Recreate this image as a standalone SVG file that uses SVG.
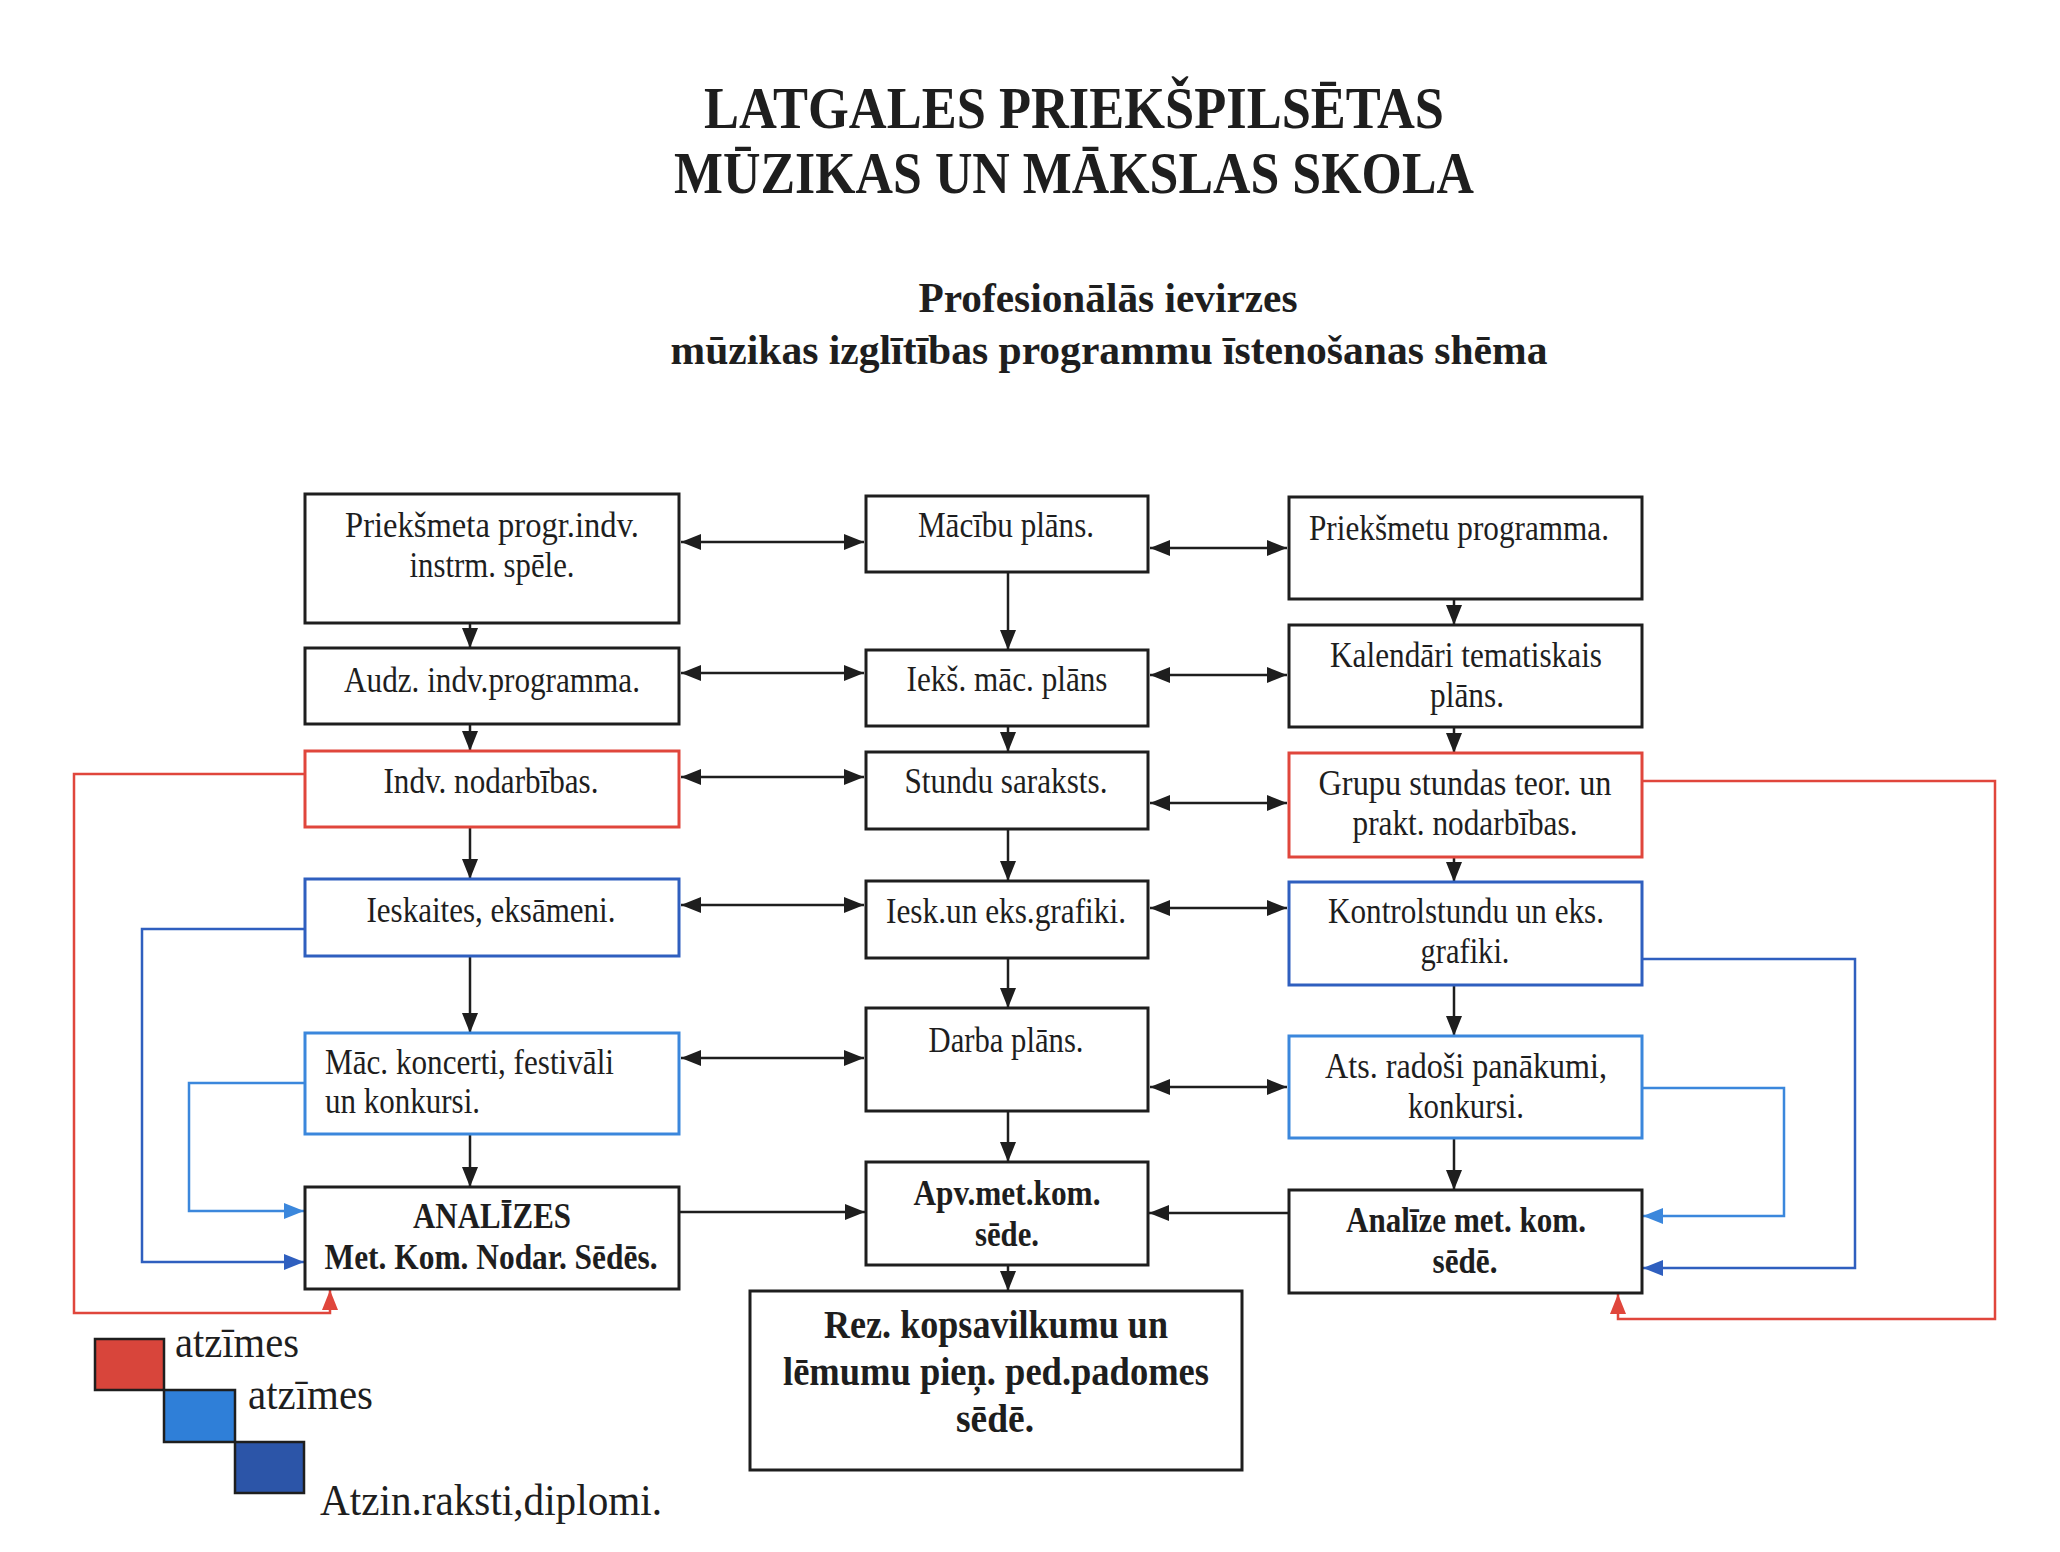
<svg xmlns="http://www.w3.org/2000/svg" width="2060" height="1552" viewBox="0 0 2060 1552">
<style>
text { font-family: "Liberation Serif", "Times New Roman", serif; fill: #1e1e1e; text-anchor: middle; }
.box { fill: #ffffff; stroke: #1e1e1e; stroke-width: 3; }
.red { stroke: #e0463c; }
.blue { stroke: #2f5fbf; }
.lblue { stroke: #3b87dc; }
.t { font-size: 36px; }
.b { font-size: 35px; font-weight: bold; }
.rz { font-size: 41px; font-weight: bold; }
.h1 { font-size: 59px; font-weight: bold; }
.h2 { font-size: 43px; font-weight: bold; }
.lg { font-size: 45px; text-anchor: start; }
.c { stroke: #1e1e1e; stroke-width: 2.5; fill: none; }
.cr { stroke: #e0463c; stroke-width: 2.5; fill: none; }
.cb { stroke: #2f5fbf; stroke-width: 2.5; fill: none; }
.cl { stroke: #3b87dc; stroke-width: 2.5; fill: none; }
.leg { stroke: #1e1e1e; stroke-width: 2.5; }
</style>
<defs>
<marker id="ab" viewBox="0 0 20 16" refX="20" refY="8" markerWidth="20" markerHeight="16" markerUnits="userSpaceOnUse" orient="auto-start-reverse"><path d="M0,0 L20,8 L0,16 z" fill="#1e1e1e"/></marker>
<marker id="ar" viewBox="0 0 20 16" refX="20" refY="8" markerWidth="20" markerHeight="16" markerUnits="userSpaceOnUse" orient="auto"><path d="M0,0 L20,8 L0,16 z" fill="#e0463c"/></marker>
<marker id="abl" viewBox="0 0 20 16" refX="20" refY="8" markerWidth="20" markerHeight="16" markerUnits="userSpaceOnUse" orient="auto"><path d="M0,0 L20,8 L0,16 z" fill="#2f5fbf"/></marker>
<marker id="alb" viewBox="0 0 20 16" refX="20" refY="8" markerWidth="20" markerHeight="16" markerUnits="userSpaceOnUse" orient="auto"><path d="M0,0 L20,8 L0,16 z" fill="#3b87dc"/></marker>
</defs>
<rect width="2060" height="1552" fill="#ffffff"/>

<g id="title">
<text class="h1" x="1074" y="128" textLength="740" lengthAdjust="spacingAndGlyphs">LATGALES PRIEKŠPILSĒTAS</text>
<text class="h1" x="1074" y="193" textLength="800" lengthAdjust="spacingAndGlyphs">MŪZIKAS UN MĀKSLAS SKOLA</text>
<text class="h2" x="1108" y="312" textLength="379" lengthAdjust="spacingAndGlyphs">Profesionālās ievirzes</text>
<text class="h2" x="1109" y="364" textLength="877" lengthAdjust="spacingAndGlyphs">mūzikas izglītības programmu īstenošanas shēma</text>
</g>

<g id="connectors">
<line class="c" x1="470" y1="623" x2="470" y2="648" marker-end="url(#ab)"/>
<line class="c" x1="470" y1="724" x2="470" y2="751" marker-end="url(#ab)"/>
<line class="c" x1="470" y1="827" x2="470" y2="879" marker-end="url(#ab)"/>
<line class="c" x1="470" y1="956" x2="470" y2="1033" marker-end="url(#ab)"/>
<line class="c" x1="470" y1="1134" x2="470" y2="1187" marker-end="url(#ab)"/>
<line class="c" x1="1008" y1="572" x2="1008" y2="650" marker-end="url(#ab)"/>
<line class="c" x1="1008" y1="726" x2="1008" y2="752" marker-end="url(#ab)"/>
<line class="c" x1="1008" y1="829" x2="1008" y2="881" marker-end="url(#ab)"/>
<line class="c" x1="1008" y1="958" x2="1008" y2="1008" marker-end="url(#ab)"/>
<line class="c" x1="1008" y1="1111" x2="1008" y2="1162" marker-end="url(#ab)"/>
<line class="c" x1="1008" y1="1265" x2="1008" y2="1291" marker-end="url(#ab)"/>
<line class="c" x1="1454" y1="599" x2="1454" y2="625" marker-end="url(#ab)"/>
<line class="c" x1="1454" y1="727" x2="1454" y2="753" marker-end="url(#ab)"/>
<line class="c" x1="1454" y1="857" x2="1454" y2="882" marker-end="url(#ab)"/>
<line class="c" x1="1454" y1="985" x2="1454" y2="1036" marker-end="url(#ab)"/>
<line class="c" x1="1454" y1="1138" x2="1454" y2="1190" marker-end="url(#ab)"/>
<line class="c" x1="681" y1="542" x2="864" y2="542" marker-start="url(#ab)" marker-end="url(#ab)"/>
<line class="c" x1="681" y1="673" x2="864" y2="673" marker-start="url(#ab)" marker-end="url(#ab)"/>
<line class="c" x1="681" y1="777" x2="864" y2="777" marker-start="url(#ab)" marker-end="url(#ab)"/>
<line class="c" x1="681" y1="905" x2="864" y2="905" marker-start="url(#ab)" marker-end="url(#ab)"/>
<line class="c" x1="681" y1="1058" x2="864" y2="1058" marker-start="url(#ab)" marker-end="url(#ab)"/>
<line class="c" x1="1150" y1="548" x2="1287" y2="548" marker-start="url(#ab)" marker-end="url(#ab)"/>
<line class="c" x1="1150" y1="675" x2="1287" y2="675" marker-start="url(#ab)" marker-end="url(#ab)"/>
<line class="c" x1="1150" y1="803" x2="1287" y2="803" marker-start="url(#ab)" marker-end="url(#ab)"/>
<line class="c" x1="1150" y1="908" x2="1287" y2="908" marker-start="url(#ab)" marker-end="url(#ab)"/>
<line class="c" x1="1150" y1="1087" x2="1287" y2="1087" marker-start="url(#ab)" marker-end="url(#ab)"/>
<line class="c" x1="679" y1="1212" x2="865" y2="1212" marker-end="url(#ab)"/>
<line class="c" x1="1289" y1="1213" x2="1149" y2="1213" marker-end="url(#ab)"/>
<polyline class="cr" points="305,774 74,774 74,1313 330,1313 330,1290" marker-end="url(#ar)"/>
<polyline class="cb" points="305,929 142,929 142,1262 304,1262" marker-end="url(#abl)"/>
<polyline class="cl" points="305,1083 189,1083 189,1211 304,1211" marker-end="url(#alb)"/>
<polyline class="cr" points="1642,781 1995,781 1995,1319 1618,1319 1618,1294" marker-end="url(#ar)"/>
<polyline class="cb" points="1642,959 1855,959 1855,1268 1643,1268" marker-end="url(#abl)"/>
<polyline class="cl" points="1642,1088 1784,1088 1784,1216 1643,1216" marker-end="url(#alb)"/>
</g>

<g id="L1"><rect class="box" x="305" y="494" width="374" height="129"/>
<text class="t" x="492" y="537" textLength="294" lengthAdjust="spacingAndGlyphs">Priekšmeta progr.indv.</text>
<text class="t" x="492" y="577" textLength="165" lengthAdjust="spacingAndGlyphs">instrm. spēle.</text></g>
<g id="L2"><rect class="box" x="305" y="648" width="374" height="76"/>
<text class="t" x="492" y="692" textLength="296" lengthAdjust="spacingAndGlyphs">Audz. indv.programma.</text></g>
<g id="L3"><rect class="box red" x="305" y="751" width="374" height="76"/>
<text class="t" x="491" y="793" textLength="215" lengthAdjust="spacingAndGlyphs">Indv. nodarbības.</text></g>
<g id="L4"><rect class="box blue" x="305" y="879" width="374" height="77"/>
<text class="t" x="491" y="922" textLength="249" lengthAdjust="spacingAndGlyphs">Ieskaites, eksāmeni.</text></g>
<g id="L5"><rect class="box lblue" x="305" y="1033" width="374" height="101"/>
<text class="t" x="325" y="1074" style="text-anchor:start" textLength="289" lengthAdjust="spacingAndGlyphs">Māc. koncerti, festivāli</text>
<text class="t" x="325" y="1113" style="text-anchor:start" textLength="155" lengthAdjust="spacingAndGlyphs">un konkursi.</text></g>
<g id="L6"><rect class="box" x="305" y="1187" width="374" height="102"/>
<text class="b" x="492" y="1228" textLength="158" lengthAdjust="spacingAndGlyphs">ANALĪZES</text>
<text class="b" x="491" y="1269" textLength="333" lengthAdjust="spacingAndGlyphs">Met. Kom. Nodar. Sēdēs.</text></g>

<g id="M1"><rect class="box" x="866" y="496" width="282" height="76"/>
<text class="t" x="1006" y="537" textLength="176" lengthAdjust="spacingAndGlyphs">Mācību plāns.</text></g>
<g id="M2"><rect class="box" x="866" y="650" width="282" height="76"/>
<text class="t" x="1007" y="691" textLength="201" lengthAdjust="spacingAndGlyphs">Iekš. māc. plāns</text></g>
<g id="M3"><rect class="box" x="866" y="752" width="282" height="77"/>
<text class="t" x="1006" y="793" textLength="203" lengthAdjust="spacingAndGlyphs">Stundu saraksts.</text></g>
<g id="M4"><rect class="box" x="866" y="881" width="282" height="77"/>
<text class="t" x="1006" y="923" textLength="240" lengthAdjust="spacingAndGlyphs">Iesk.un eks.grafiki.</text></g>
<g id="M5"><rect class="box" x="866" y="1008" width="282" height="103"/>
<text class="t" x="1006" y="1052" textLength="155" lengthAdjust="spacingAndGlyphs">Darba plāns.</text></g>
<g id="M6"><rect class="box" x="866" y="1162" width="282" height="103"/>
<text class="b" x="1007" y="1205" textLength="187" lengthAdjust="spacingAndGlyphs">Apv.met.kom.</text>
<text class="b" x="1007" y="1246" textLength="64" lengthAdjust="spacingAndGlyphs">sēde.</text></g>
<g id="REZ"><rect class="box" x="750" y="1291" width="492" height="179"/>
<text class="rz" x="996" y="1338" textLength="344" lengthAdjust="spacingAndGlyphs">Rez. kopsavilkumu un</text>
<text class="rz" x="996" y="1385" textLength="426" lengthAdjust="spacingAndGlyphs">lēmumu pieņ. ped.padomes</text>
<text class="rz" x="995" y="1432" textLength="78" lengthAdjust="spacingAndGlyphs">sēdē.</text></g>

<g id="R1"><rect class="box" x="1289" y="497" width="353" height="102"/>
<text class="t" x="1459" y="540" textLength="300" lengthAdjust="spacingAndGlyphs">Priekšmetu programma.</text></g>
<g id="R2"><rect class="box" x="1289" y="625" width="353" height="102"/>
<text class="t" x="1466" y="667" textLength="272" lengthAdjust="spacingAndGlyphs">Kalendāri tematiskais</text>
<text class="t" x="1467" y="707" textLength="74" lengthAdjust="spacingAndGlyphs">plāns.</text></g>
<g id="R3"><rect class="box red" x="1289" y="753" width="353" height="104"/>
<text class="t" x="1465" y="795" textLength="293" lengthAdjust="spacingAndGlyphs">Grupu stundas teor. un</text>
<text class="t" x="1465" y="835" textLength="225" lengthAdjust="spacingAndGlyphs">prakt. nodarbības.</text></g>
<g id="R4"><rect class="box blue" x="1289" y="882" width="353" height="103"/>
<text class="t" x="1466" y="923" textLength="276" lengthAdjust="spacingAndGlyphs">Kontrolstundu un eks.</text>
<text class="t" x="1465" y="963" textLength="89" lengthAdjust="spacingAndGlyphs">grafiki.</text></g>
<g id="R5"><rect class="box lblue" x="1289" y="1036" width="353" height="102"/>
<text class="t" x="1466" y="1078" textLength="282" lengthAdjust="spacingAndGlyphs">Ats. radoši panākumi,</text>
<text class="t" x="1466" y="1118" textLength="116" lengthAdjust="spacingAndGlyphs">konkursi.</text></g>
<g id="R6"><rect class="box" x="1289" y="1190" width="353" height="103"/>
<text class="b" x="1466" y="1232" textLength="240" lengthAdjust="spacingAndGlyphs">Analīze met. kom.</text>
<text class="b" x="1465" y="1273" textLength="65" lengthAdjust="spacingAndGlyphs">sēdē.</text></g>

<g id="legend">
<rect class="leg" x="95" y="1339" width="69" height="51" fill="#d8453b"/>
<rect class="leg" x="164" y="1390" width="71" height="52" fill="#2f7fd8"/>
<rect class="leg" x="235" y="1442" width="69" height="51" fill="#2c55a8"/>
<text class="lg" x="175" y="1357" textLength="124" lengthAdjust="spacingAndGlyphs">atzīmes</text>
<text class="lg" x="248" y="1409" textLength="125" lengthAdjust="spacingAndGlyphs">atzīmes</text>
<text class="lg" x="320" y="1515" textLength="342" lengthAdjust="spacingAndGlyphs">Atzin.raksti,diplomi.</text>
</g>
</svg>
